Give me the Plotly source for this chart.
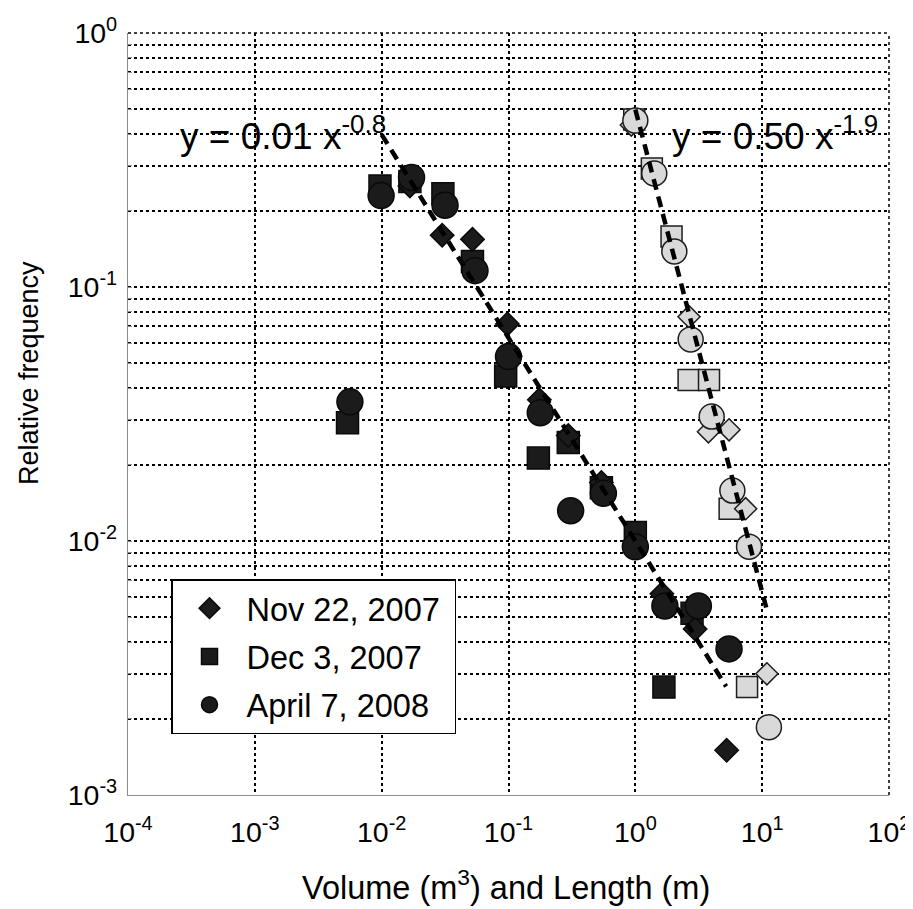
import plotly.graph_objects as go

# ---------------- data ----------------
series_names = ["Nov 22, 2007", "Dec 3, 2007", "April 7, 2008"]

# Volume (m^3) - dark markers
vol_nov_x = [0.0167, 0.030, 0.052, 0.098, 0.175, 0.296, 0.54, 1.62, 2.96, 5.25]
vol_nov_y = [0.25, 0.160, 0.154, 0.0715, 0.036, 0.026, 0.017, 0.0062, 0.0045, 0.0015]
vol_dec_x = [0.00538, 0.0097, 0.0167, 0.0304, 0.052, 0.095, 0.172, 0.296, 0.54, 1.0, 1.68, 2.8]
vol_dec_y = [0.0292, 0.25, 0.26, 0.233, 0.126, 0.0446, 0.0212, 0.0244, 0.0162, 0.0108, 0.00266, 0.0052]
vol_apr_x = [0.00562, 0.0099, 0.0172, 0.0316, 0.0544, 0.1, 0.178, 0.309, 0.56, 1.0, 1.71, 3.14, 5.48]
vol_apr_y = [0.0353, 0.229, 0.270, 0.21, 0.116, 0.0532, 0.032, 0.01316, 0.0154, 0.0095, 0.00555, 0.00555, 0.00376]

# Length (m) - light markers
len_nov_x = [0.93, 2.65, 3.77, 5.48, 7.41, 10.9]
len_nov_y = [0.434, 0.0764, 0.0269, 0.0274, 0.0134, 0.003]
len_dec_x = [0.98, 1.35, 1.93, 2.63, 3.81, 5.54, 7.6]
len_dec_y = [0.457, 0.293, 0.158, 0.043, 0.043, 0.0134, 0.00266]
len_apr_x = [1.0, 1.41, 2.03, 2.73, 4.0, 5.82, 7.88, 11.3]
len_apr_y = [0.452, 0.28, 0.138, 0.0622, 0.0309, 0.0158, 0.0095, 0.00185]

# power-law fits  y = a * x^b
fit_vol_a, fit_vol_b = 0.01, -0.8
fit_vol_x = [0.01, 5.2]
fit_len_a, fit_len_b = 0.50, -1.9
fit_len_x = [1.0, 10.8]

x_tick_exps = [-4, -3, -2, -1, 0, 1, 2]
y_tick_exps = [-3, -2, -1, 0]

# ---------------- figure ----------------
FONT = "Liberation Sans, Arial, sans-serif"
DARK_FILL = "#1b1b1b"
DARK_LINE = "#0a0a0a"
LIGHT_FILL = "#d9d9d9"
LIGHT_LINE = "#1e1e1e"

# the page body has an 8px margin; size the figure to fit the window
OFF = 8
W, H = 913 - OFF, 909 - OFF
# plot area in window pixels: x 128..889, y 33..795
ML, MR, MT, MB = 128 - OFF, 913 - 889, 33 - OFF, 909 - 795
PW, PH = W - ML - MR, H - MT - MB


def px_x(px):
    return (px - OFF - ML) / PW


def px_y(py):
    return (H - MB - (py - OFF)) / PH


fig = go.Figure()


def add_pts(x, y, symbol, size, fill, line, name, show, rank):
    fig.add_trace(go.Scatter(
        x=x, y=y, mode="markers", name=name, showlegend=show,
        legendrank=rank, legendgroup=name if show else None,
        marker=dict(symbol=symbol, size=size, color=fill,
                    line=dict(color=line, width=1.5)),
    ))


# draw order: squares, diamonds, circles
add_pts(vol_dec_x, vol_dec_y, "square", 22, DARK_FILL, DARK_LINE, series_names[1], True, 2)
add_pts(vol_nov_x, vol_nov_y, "diamond", 18, DARK_FILL, DARK_LINE, series_names[0] + "\u00a0", True, 1)
add_pts(vol_apr_x, vol_apr_y, "circle", 26, DARK_FILL, DARK_LINE, series_names[2], True, 3)
add_pts(len_dec_x, len_dec_y, "square", 21, LIGHT_FILL, LIGHT_LINE, series_names[1] + " (length)", False, 10)
add_pts(len_nov_x, len_nov_y, "diamond", 17, LIGHT_FILL, LIGHT_LINE, series_names[0] + " (length)", False, 10)
add_pts(len_apr_x, len_apr_y, "circle", 25, LIGHT_FILL, LIGHT_LINE, series_names[2] + " (length)", False, 10)

for xs, a, b in [(fit_vol_x, fit_vol_a, fit_vol_b), (fit_len_x, fit_len_a, fit_len_b)]:
    fig.add_trace(go.Scatter(
        x=xs, y=[a * v ** b for v in xs], mode="lines", showlegend=False,
        line=dict(color="black", width=4.5, dash="11px,7px"),
    ))

y_tickvals, y_ticktext = [], []
for e in y_tick_exps:
    for m in range(1, 10):
        if e == 0 and m > 1:
            break
        y_tickvals.append(m * 10 ** e)
        y_ticktext.append(f"10<sup>{e}</sup>" if m == 1 else "")

fig.update_xaxes(
    type="log", range=[-4, 2], automargin=False,
    tickvals=[10 ** e for e in x_tick_exps],
    ticktext=[f"10<sup>{e}</sup>" for e in x_tick_exps],
    tickfont=dict(family=FONT, size=28.5, color="black"),
    ticklabelstandoff=12,
    showgrid=True, gridcolor="black", griddash="dot", gridwidth=1.5,
    showline=True, linecolor="#8c8c8c", linewidth=1.2,
    ticks="", zeroline=False,
)
fig.update_yaxes(
    type="log", range=[-3, 0], automargin=False,
    tickvals=y_tickvals, ticktext=y_ticktext,
    tickfont=dict(family=FONT, size=28.5, color="black"),
    ticklabelstandoff=4,
    showgrid=True, gridcolor="black", griddash="dot", gridwidth=1.5,
    showline=True, linecolor="#8c8c8c", linewidth=1.2,
    ticks="inside", ticklen=4, tickcolor="#8c8c8c", zeroline=False,
)

fig.update_layout(
    width=W, height=H,
    margin=dict(l=ML, r=MR, t=MT, b=MB, autoexpand=False),
    paper_bgcolor="white", plot_bgcolor="white",
    font=dict(family=FONT, color="black"),
    legend=dict(
        x=px_x(171), y=px_y(579), xanchor="left", yanchor="top",
        bgcolor="white", bordercolor="black", borderwidth=1.5,
        font=dict(family=FONT, size=32.5, color="black"),
        itemwidth=64, tracegroupgap=3,
    ),
    shapes=[
        dict(type="line", xref="paper", yref="paper", x0=0, x1=1, y0=1, y1=1,
             line=dict(color="black", width=1.5, dash="dot"), layer="below"),
        dict(type="line", xref="paper", yref="paper", x0=1, x1=1, y0=0, y1=1,
             line=dict(color="black", width=1.5, dash="dot"), layer="below"),
    ],
    annotations=[
        dict(text="y = 0.01 x<sup>-0.8</sup>", xref="paper", yref="paper",
             x=px_x(178), y=px_y(133), xanchor="left", yanchor="middle",
             showarrow=False, font=dict(family=FONT, size=37, color="black")),
        dict(text="y = 0.50 x<sup>-1.9</sup>", xref="paper", yref="paper",
             x=px_x(670), y=px_y(133), xanchor="left", yanchor="middle",
             showarrow=False, font=dict(family=FONT, size=37, color="black")),
        dict(text="Volume (m<sup>3</sup>) and Length (m)", xref="paper", yref="paper",
             x=px_x(506), y=px_y(885), xanchor="center", yanchor="middle",
             showarrow=False, font=dict(family=FONT, size=32.5, color="black")),
        dict(text="Relative frequency", xref="paper", yref="paper", textangle=-90,
             x=px_x(29), y=px_y(373), xanchor="center", yanchor="middle",
             showarrow=False, font=dict(family=FONT, size=27, color="black")),
    ],
)

fig.write_html("out.html")
